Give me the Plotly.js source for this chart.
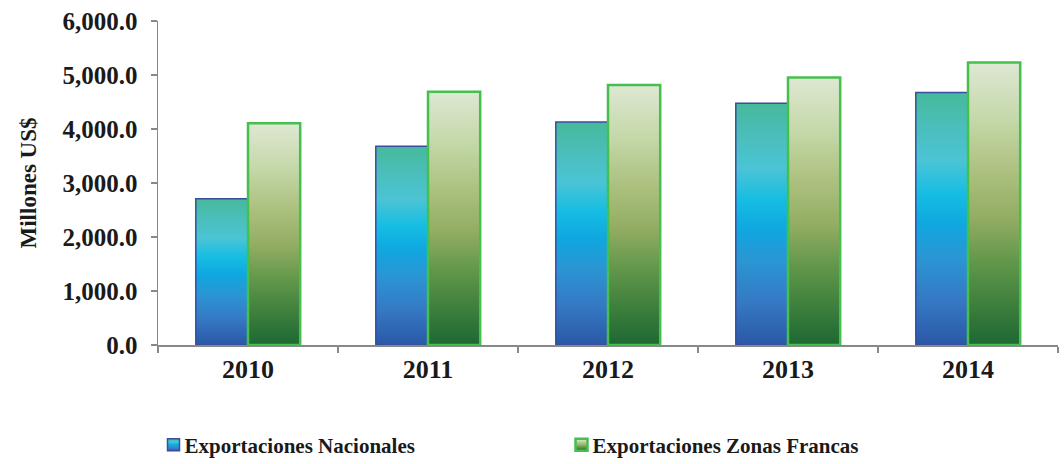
<!DOCTYPE html>
<html>
<head>
<meta charset="utf-8">
<script src="https://cdn.plot.ly/plotly-3.0.1.min.js"></script>
<style>
html,body{margin:0;padding:0;background:#fff;}
#chart{width:1064px;height:464px;}
#chart svg text{font-family:'Liberation Serif','Times New Roman',serif !important;font-weight:bold !important;}
</style>
</head>
<body>
<svg width="0" height="0" style="position:absolute">
  <defs>
    <linearGradient id="gradBlue" x1="0" y1="0" x2="0" y2="1">
      <stop offset="0%" stop-color="#47B99B"/>
      <stop offset="15%" stop-color="#4ABFBE"/>
      <stop offset="27%" stop-color="#4BC4D5"/>
      <stop offset="40%" stop-color="#16BDE3"/>
      <stop offset="52%" stop-color="#0FA7E0"/>
      <stop offset="66%" stop-color="#2B95D3"/>
      <stop offset="82%" stop-color="#3579C4"/>
      <stop offset="100%" stop-color="#2A58A6"/>
    </linearGradient>
    <linearGradient id="gradGreen" x1="0" y1="0" x2="0" y2="1">
      <stop offset="0%" stop-color="#DEE8D3"/>
      <stop offset="20%" stop-color="#C5D8A9"/>
      <stop offset="40%" stop-color="#AABF7C"/>
      <stop offset="55%" stop-color="#93AD63"/>
      <stop offset="70%" stop-color="#63984B"/>
      <stop offset="85%" stop-color="#3F803D"/>
      <stop offset="100%" stop-color="#1D6833"/>
    </linearGradient>
  </defs>
</svg>
<div id="chart"></div>
<script>
const years = ['2010', '2011', '2012', '2013', '2014'];
const nacionales = [2710, 3680, 4130, 4475, 4675];
const zonasFrancas = [4105, 4690, 4815, 4955, 5230];
const seriesNames = ['Exportaciones Nacionales', 'Exportaciones Zonas Francas'];
const yTicks = [0, 1000, 2000, 3000, 4000, 5000, 6000];

const fontFam = 'Liberation Serif, Times New Roman, serif';

const traces = [
  {
    type: 'bar', x: years, y: nacionales, name: seriesNames[0],
    marker: {color: '#1FA8E0', line: {color: '#3A4DA0', width: 1.5}},
    hoverinfo: 'none'
  },
  {
    type: 'bar', x: years, y: zonasFrancas, name: seriesNames[1],
    marker: {color: '#93AD63', line: {color: '#45C04E', width: 2.5}},
    hoverinfo: 'none'
  }
];

const layout = {
  width: 1064, height: 464,
  margin: {l: 158, r: 6, t: 21, b: 119, autoexpand: false},
  paper_bgcolor: '#fff', plot_bgcolor: '#fff',
  barmode: 'group', bargap: 0.42, bargroupgap: 0,
  font: {family: fontFam, color: '#1a1a1a'},
  showlegend: true,
  legend: {
    orientation: 'h', x: -0.005, xanchor: 'left', y: -0.309, yanchor: 'middle',
    font: {family: fontFam, size: 21, color: '#1a1a1a', weight: 'bold'},
    entrywidth: 363, entrywidthmode: 'pixels', itemwidth: 30,
    traceorder: 'normal'
  },
  xaxis: {
    type: 'category', showline: true, linecolor: '#888', linewidth: 1.5,
    ticks: 'outside', tickson: 'boundaries', ticklen: 6, tickcolor: '#888', tickwidth: 1.5,
    tickfont: {family: fontFam, size: 26, color: '#1a1a1a', weight: 'bold'},
    showgrid: false, zeroline: false
  },
  yaxis: {
    range: [0, 6000], tickvals: yTicks, tickformat: ',.1f',
    showline: true, linecolor: '#888', linewidth: 1.5,
    ticks: 'outside', ticklen: 6, tickcolor: '#888', tickwidth: 1.5,
    ticklabelstandoff: 8,
    tickfont: {family: fontFam, size: 25, color: '#1a1a1a', weight: 'bold'},
    showgrid: false, zeroline: false,
    title: {text: 'Millones US$', font: {family: fontFam, size: 23, color: '#1a1a1a', weight: 'bold'}, standoff: 19}
  }
};

function applyGradients() {
  const gd = document.getElementById('chart');
  const grads = ['url(#gradBlue)', 'url(#gradGreen)'];
  gd.querySelectorAll('.barlayer .trace').forEach((t, i) => {
    t.querySelectorAll('path').forEach(p => { p.style.fill = grads[i % 2]; });
  });
  gd.querySelectorAll('.legend .traces').forEach((t, i) => {
    t.querySelectorAll('.legendpoints path').forEach(p => { p.style.fill = grads[i % 2]; });
    const txt = t.querySelector('text.legendtext');
    if (txt) txt.setAttribute('x', parseFloat(txt.getAttribute('x')) - 9);
  });
}

Plotly.newPlot('chart', traces, layout, {staticPlot: true, displayModeBar: false}).then(applyGradients);
</script>
</body>
</html>
